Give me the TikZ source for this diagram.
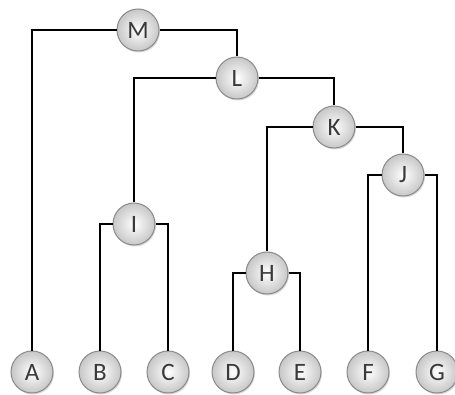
\documentclass[tikz,border=0pt]{standalone}
\usepackage{fontspec}
\setmainfont{Carlito}
\usetikzlibrary{shadows}
\definecolor{nodeborder}{HTML}{8A8A8A}
\definecolor{nodetext}{HTML}{3A3A3A}
\begin{document}
\begin{tikzpicture}[x=1pt,y=-1pt,
  tnode/.style={circle,minimum size=42pt,inner sep=0pt,draw=nodeborder,line width=1pt,
    inner color=white,outer color=black!22,
    drop shadow={shadow xshift=1pt,shadow yshift=-1.5pt,opacity=0.3},
    font=\fontsize{25}{25}\selectfont,text=nodetext},
  link/.style={draw=black,line width=1.2pt}]
\useasboundingbox (0,0) rectangle (455,395);
\node[tnode] (M) at (138,30) {M};
\node[tnode] (L) at (237,78) {L};
\node[tnode] (K) at (334,127) {K};
\node[tnode] (J) at (403,175) {J};
\node[tnode] (I) at (134,224) {I};
\node[tnode] (H) at (267,273) {H};
\node[tnode] (A) at (32,372) {A};
\node[tnode] (B) at (100,372) {B};
\node[tnode] (C) at (168,372) {C};
\node[tnode] (D) at (233,372) {D};
\node[tnode] (E) at (300,372) {E};
\node[tnode] (F) at (368,372) {F};
\node[tnode] (G) at (437,372) {G};
\draw[link] (M) -| (A);
\draw[link] (M) -| (L);
\draw[link] (L) -| (I);
\draw[link] (L) -| (K);
\draw[link] (K) -| (H);
\draw[link] (K) -| (J);
\draw[link] (J) -| (F);
\draw[link] (J) -| (G);
\draw[link] (I) -| (B);
\draw[link] (I) -| (C);
\draw[link] (H) -| (D);
\draw[link] (H) -| (E);
\end{tikzpicture}
\end{document}
